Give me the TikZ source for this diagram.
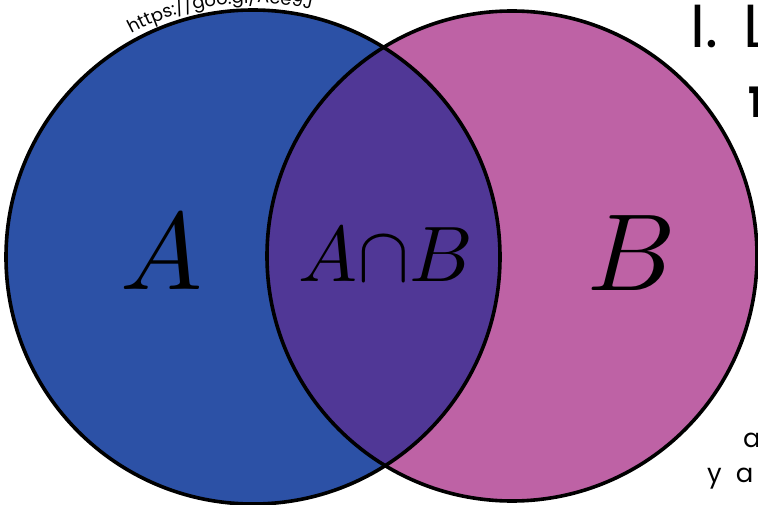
\documentclass[tikz,border=0pt]{standalone}
\usepackage{fontspec}
\usepackage{unicode-math}
\newfontfamily\gothic{Poppins}
\usetikzlibrary{decorations.text}
\definecolor{setA}{RGB}{44,81,166}
\definecolor{setB}{RGB}{190,98,165}
\definecolor{setAB}{RGB}{80,55,150}
\tikzset{
  outline/.style={draw=black, line width=3.6bp},
  biglabel/.style={anchor=base, inner sep=0pt, font=\fontsize{110}{110}\selectfont},
  midlabel/.style={anchor=base, inner sep=0pt, font=\fontsize{79}{79}\selectfont},
  sidetext/.style={anchor=base west, inner sep=0pt, text=black},
}
\begin{document}
\begin{tikzpicture}[x=1bp,y=-1bp]
\useasboundingbox (0,0) rectangle (758,505);
\clip (0,0) rectangle (758,505);
\fill[white] (0,0) rectangle (758,505);
\coordinate (ca) at (253,257);
\coordinate (cb) at (512,256);
\fill[setA] (ca) circle[radius=247];
\fill[setB] (cb) circle[radius=245];
\begin{scope}
  \clip (ca) circle[radius=247];
  \fill[setAB] (cb) circle[radius=245];
\end{scope}
\draw[outline] (ca) circle[radius=247];
\draw[outline] (cb) circle[radius=245];
\node[biglabel] (la) at (162,290) {$A$};
\node[midlabel] (lab) at (385,282) {$A{\cap}B$};
\node[biglabel] (lb) at (630,291) {$B$};
\path[decorate, decoration={text along path, text={|\gothic\fontsize{18}{18}\selectfont|https://goo.gl/Ace9Jf}, text align=center}]
  (ca) ++(-117:254) arc[start angle=-117, end angle=-77, radius=254];
\node[sidetext, font=\gothic\fontsize{61}{61}\selectfont] (title) at (690,48) {I.\hspace*{26bp}L};
\node[sidetext, font=\gothic\bfseries\fontsize{42}{42}\selectfont] (one) at (748,118) {1};
\node[sidetext, font=\gothic\fontsize{26}{26}\selectfont] (l1) at (743,447) {a};
\node[sidetext, font=\gothic\fontsize{26}{26}\selectfont] (l2) at (707,482) {y\hspace*{14bp}a};
\end{tikzpicture}
\end{document}
